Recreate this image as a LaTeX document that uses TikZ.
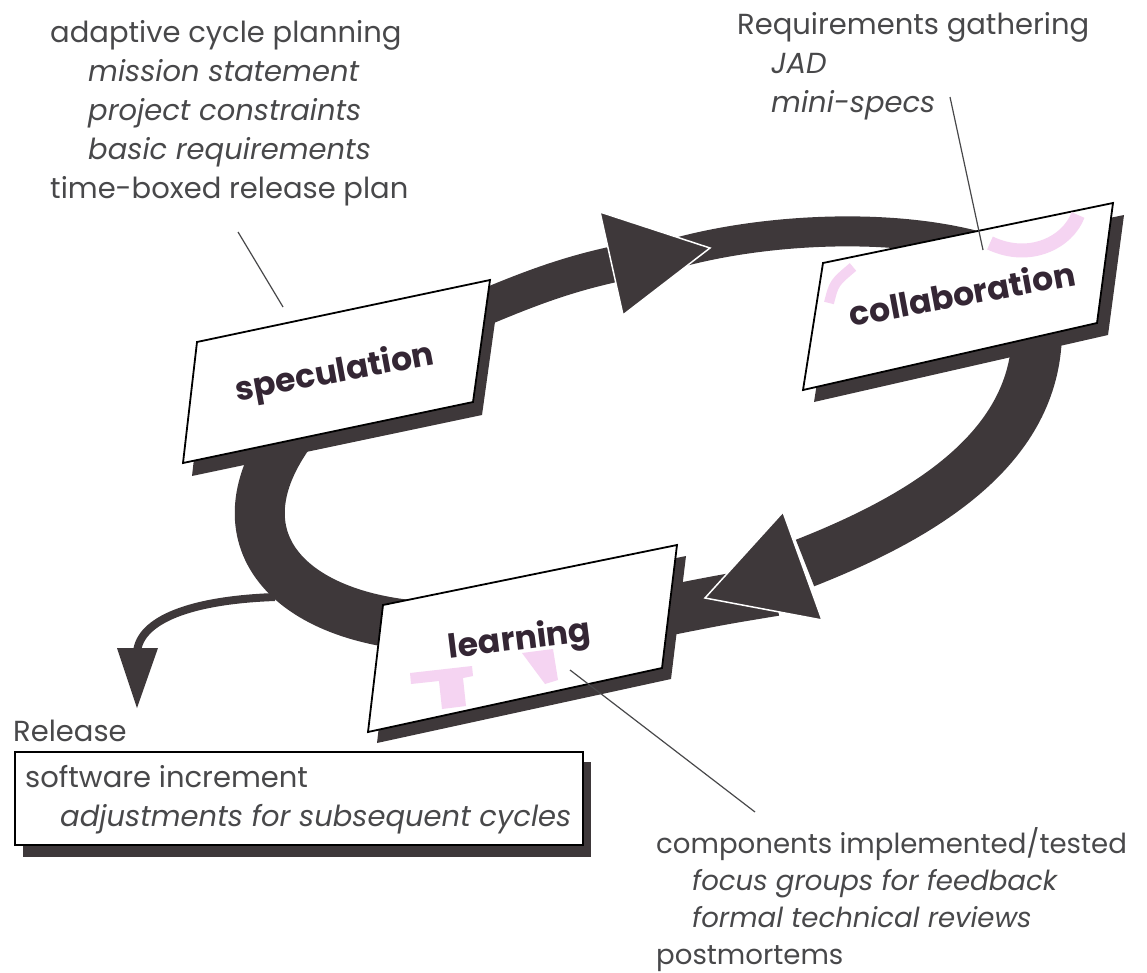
\documentclass[tikz,border=0pt]{standalone}
\usepackage{fontspec}
\setmainfont{Poppins}
\definecolor{band}{RGB}{62,56,58}
\definecolor{txt}{RGB}{72,72,74}
\definecolor{lbl}{RGB}{52,38,52}
\definecolor{pinkish}{RGB}{245,212,242}
\begin{document}
\begin{tikzpicture}[x=1pt,y=-1pt,
  bandline/.style={draw=band, line width=#1, line cap=butt},
  head/.style={fill=band, draw=white, line width=1.5pt, line join=miter},
  shadowbox/.style={fill=band},
  phasebox/.style={fill=white, draw=black, line width=1.8pt, line join=miter},
  phaselabel/.style={text=lbl, font=\fontsize{33}{36}\selectfont\bfseries, inner sep=0pt},
  note/.style={text=txt, font=\fontsize{29}{39}\selectfont, align=left, inner sep=0pt},
  leader/.style={draw=txt, line width=1.2pt}]
\useasboundingbox (0,0) rectangle (1147,973);

% ---------- coordinates ----------
% speculation box
\coordinate (s1) at (197,342); \coordinate (s2) at (490,280);
\coordinate (s3) at (473,402); \coordinate (s4) at (183,463);
% collaboration box
\coordinate (c1) at (823,263); \coordinate (c2) at (1113,203);
\coordinate (c3) at (1097,323); \coordinate (c4) at (803,390);
% learning box
\coordinate (l1) at (383,605); \coordinate (l2) at (677,545);
\coordinate (l3) at (662,668); \coordinate (l4) at (368,732);

% band path points
\coordinate (aS) at (455,320);   \coordinate (aE) at (615,264);
\coordinate (bS) at (680,252);   \coordinate (bE) at (990,250);
\coordinate (cS) at (1037,330);  \coordinate (cE) at (805,563);
\coordinate (dS) at (775,591);   \coordinate (dE) at (630,618);
\coordinate (eS) at (420,626);   \coordinate (eE) at (300,420);
\coordinate (rS) at (275,597);   \coordinate (rE) at (137,652);

% ---------- bands ----------
\draw[bandline=36] (aS) .. controls (520,292) and (560,276) .. (aE);
\draw[bandline=30] (bS) .. controls (770,228) and (900,222) .. (bE);
\draw[bandline=50] (cS) .. controls (1037,440) and (940,510) .. (cE);
\draw[bandline=50] (dS) .. controls (720,600) .. (dE);
\draw[bandline=50] (eS) .. controls (280,615) and (210,530) .. (eE);
\draw[bandline=8] (rS) .. controls (190,600) and (140,620) .. (rE);

% ---------- arrowheads ----------
\path[head] (600,212) -- (710,248) -- (623,315) -- cycle;
\path[head] (783,512) -- (705,598) -- (822,620) -- cycle;
\fill[band] (117,648) -- (158,648) -- (137,708) -- cycle;

% ---------- boxes ----------
\fill[shadowbox] ([shift={(9,13)}]s1) -- ([shift={(9,13)}]s2) -- ([shift={(9,13)}]s3) -- ([shift={(9,13)}]s4) -- cycle;
\path[phasebox] (s1) -- (s2) -- (s3) -- (s4) -- cycle;

\fill[shadowbox] ([shift={(11,12)}]c1) -- ([shift={(11,12)}]c2) -- ([shift={(11,12)}]c3) -- ([shift={(11,12)}]c4) -- cycle;
\path[phasebox] (c1) -- (c2) -- (c3) -- (c4) -- cycle;
\draw[pinkish, line width=10pt] (829,303) .. controls (834,283) .. (853,267);
\draw[pinkish, line width=14pt] (990,243) .. controls (1030,262) and (1068,242) .. (1078,215);

\fill[shadowbox] ([shift={(9,11)}]l1) -- ([shift={(9,11)}]l2) -- ([shift={(9,11)}]l3) -- ([shift={(9,11)}]l4) -- cycle;
\path[phasebox] (l1) -- (l2) -- (l3) -- (l4) -- cycle;
\fill[pinkish] (410,673) -- (472,666) -- (473,676) -- (463,678) -- (466,706) -- (442,709) -- (439,681) -- (411,684) -- cycle;
\fill[pinkish] (522,653) -- (553,649) -- (558,680) -- (545,684) -- cycle;

% ---------- phase labels ----------
\node[phaselabel, rotate=10.5] (spec) at (335,374) {speculation};
\node[phaselabel, rotate=10.5] (collab) at (962,293) {collaboration};
\node[phaselabel, rotate=7] (learn) at (520,641) {learning};

% ---------- notes ----------
\node[note, anchor=north west] (plan) at (50,20) {adaptive cycle planning\\
\hspace*{38pt}\textit{mission statement}\\
\hspace*{38pt}\textit{project constraints}\\
\hspace*{38pt}\textit{basic requirements}\\
time-boxed release plan};

\node[note, anchor=north west] (req) at (737,12) {Requirements gathering\\
\hspace*{34pt}\textit{JAD}\\
\hspace*{34pt}\textit{mini-specs}};

\node[note, anchor=north west, font=\fontsize{27.6}{37}\selectfont] (comp) at (656,827) {components implemented/tested\\
\hspace*{36pt}\textit{focus groups for feedback}\\
\hspace*{36pt}\textit{formal technical reviews}\\
postmortems};

\node[note, anchor=north west] (rel) at (13,720) {Release};

% release box
\fill[shadowbox] (23,762) rectangle (591,857);
\path[phasebox] (15,752) rectangle (583,845);
\node[note, anchor=north west] (incr) at (25,765) {software increment\\
\hspace*{35pt}\textit{adjustments for subsequent cycles}};

% ---------- leader lines ----------
\coordinate (p1) at (238,232); \coordinate (p2) at (283,307);
\coordinate (q1) at (950,97);  \coordinate (q2) at (983,250);
\coordinate (t1) at (570,670); \coordinate (t2) at (755,812);
\draw[leader] (p1) -- (p2);
\draw[leader] (q1) -- (q2);
\draw[leader] (t1) -- (t2);
\end{tikzpicture}
\end{document}
